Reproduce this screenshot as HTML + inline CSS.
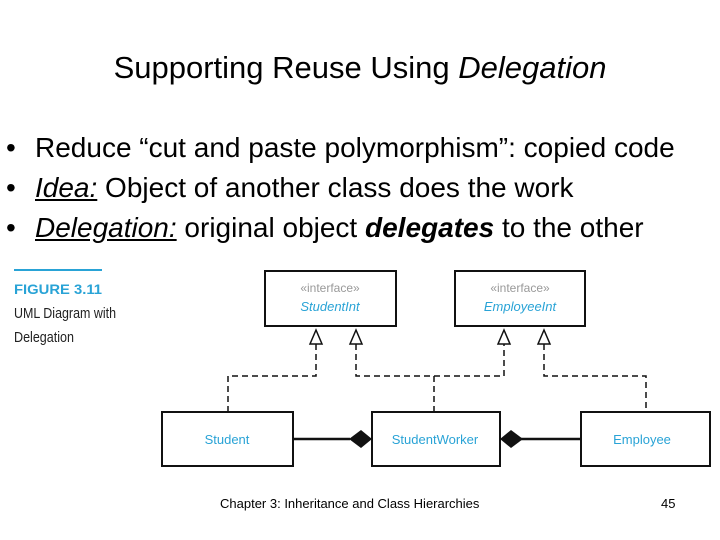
<!DOCTYPE html>
<html><head><meta charset="utf-8"><style>
body{margin:0;width:720px;height:540px;background:#fff;position:relative;font-family:"Liberation Sans",sans-serif;overflow:hidden}
.t{position:absolute;left:0;width:720px;text-align:center;top:50px;font-size:31px;white-space:nowrap}
.b{position:absolute;left:6px;font-size:28px;line-height:40px;white-space:nowrap}
.d{display:inline-block;width:29px}
</style></head><body>
<div class="t">Supporting Reuse Using <i>Delegation</i></div>
<div class="b" style="top:128px"><span class="d">•</span>Reduce “cut and paste polymorphism”: copied code</div>
<div class="b" style="top:168px"><span class="d">•</span><i><u>Idea:</u></i> Object of another class does the work</div>
<div class="b" style="top:208px"><span class="d">•</span><i><u>Delegation:</u></i> original object <b><i>delegates</i></b> to the other</div>
<svg width="720" height="540" style="position:absolute;left:0;top:0">
<line x1="14" y1="270" x2="102" y2="270" stroke="#29a3d6" stroke-width="2"/>
<text x="14" y="294" font-size="14" font-weight="bold" fill="#29a3d6" textLength="88" lengthAdjust="spacingAndGlyphs">FIGURE 3.11</text>
<text x="14" y="318" font-size="15" fill="#222" textLength="102" lengthAdjust="spacingAndGlyphs">UML Diagram with</text>
<text x="14" y="342" font-size="15" fill="#222" textLength="60" lengthAdjust="spacingAndGlyphs">Delegation</text>
<g fill="#fff" stroke="#111" stroke-width="2">
<rect x="265" y="271" width="131" height="55"/>
<rect x="455" y="271" width="130" height="55"/>
<rect x="162" y="412" width="131" height="54"/>
<rect x="372" y="412" width="128" height="54"/>
<rect x="581" y="412" width="129" height="54"/>
</g>
<g font-family="Liberation Sans Narrow,Liberation Sans,sans-serif" font-size="12" text-anchor="middle">
<text x="330" y="292" fill="#999">«interface»</text>
<text x="330" y="311" fill="#29a3d6" font-style="italic" font-size="13">StudentInt</text>
<text x="520" y="292" fill="#999">«interface»</text>
<text x="520" y="311" fill="#29a3d6" font-style="italic" font-size="13">EmployeeInt</text>
<text x="227" y="444" fill="#29a3d6" font-size="13">Student</text>
<text x="435" y="444" fill="#29a3d6" font-size="13">StudentWorker</text>
<text x="642" y="444" fill="#29a3d6" font-size="13">Employee</text>
</g>
<g fill="none" stroke="#111" stroke-width="1.5" stroke-dasharray="6,4">
<polyline points="316,344 316,376 228,376 228,412"/>
<polyline points="356,344 356,376 504,376 504,344"/>
<line x1="434" y1="376" x2="434" y2="412"/>
<polyline points="544,344 544,376 646,376 646,412"/>
</g>
<g fill="#fff" stroke="#111" stroke-width="1.5">
<polygon points="316,330 310,344 322,344"/>
<polygon points="356,330 350,344 362,344"/>
<polygon points="504,330 498,344 510,344"/>
<polygon points="544,330 538,344 550,344"/>
</g>
<line x1="293" y1="439" x2="350" y2="439" stroke="#111" stroke-width="2.5"/>
<line x1="520" y1="439" x2="581" y2="439" stroke="#111" stroke-width="2.5"/>
<polygon points="349,439 361,430 372,439 361,448" fill="#111"/>
<polygon points="500,439 511,430 523,439 511,448" fill="#111"/>
</svg>
<div style="position:absolute;left:220px;top:496px;font-size:13px">Chapter 3: Inheritance and Class Hierarchies</div>
<div style="position:absolute;left:661px;top:496px;font-size:13px">45</div>
</body></html>
